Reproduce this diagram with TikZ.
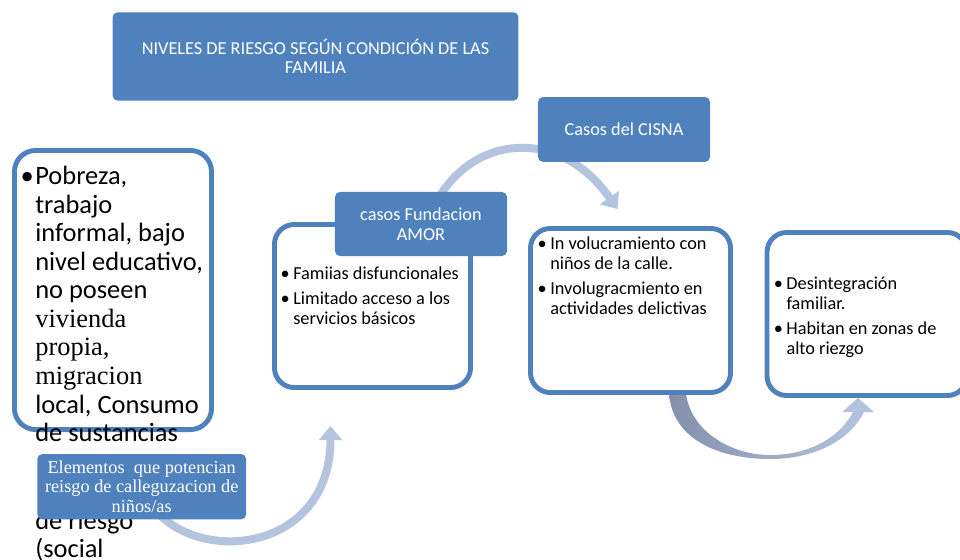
\documentclass[tikz,border=0pt]{standalone}
\usepackage{fontspec}
\setmainfont{Carlito}
\newfontfamily\tnr{Liberation Serif}
\usetikzlibrary{arrows.meta,calc,backgrounds}
\definecolor{ofblue}{HTML}{4F81BD}
\definecolor{arrlight}{HTML}{B4C3DE}
\definecolor{arrdark}{HTML}{8391AD}
\tikzset{
  hdr/.style={rectangle, rounded corners=3.5pt, fill=ofblue, text=white, align=center,
    font=\fontsize{13}{14.2}\selectfont},
  card/.style={rectangle, rounded corners=14pt, draw=ofblue, line width=3.5pt, fill=white},
  flow/.style={arrlight, line width=5.7pt, -{Triangle[width=16pt,length=10pt]}},
  body/.style={anchor=north west, inner sep=0pt, align=left, font=\fontsize{13}{14.2}\selectfont}
}
\newcommand{\bul}[1][2.5pt]{\llap{\textbullet\hspace{#1}}}

\begin{document}
\begin{tikzpicture}[x=0.025cm, y=-0.025cm]
  \useasboundingbox (0,0) rectangle (960,559);
  \node (pob) at (113,290) [card, rounded corners=15pt, minimum width=4.925cm, minimum height=6.975cm] {};
  \node (fam) at (372.5,306) [card, minimum width=4.9cm, minimum height=4.075cm] {};
  \node (calle) at (630.5,310.5) [card, minimum width=5cm, minimum height=4.1cm] {};
  \node (zona) at (867,314) [card, minimum width=5cm, minimum height=4.075cm] {};

  \node (pobtxt) at ($(pob.north west)+(23,18)$) [body, font=\fontsize{18.8}{20.3}\selectfont]
    {\bul[1pt]Pobreza,\\trabajo\\informal, bajo\\nivel educativo,\\no poseen\\{\tnr vivienda}\\{\tnr propia,}\\{\tnr migracion}\\local, Consumo\\de sustancias\\[42pt]de riesgo\\(social};
  \node (famtxt) at ($(fam.north west)+(21,45)$) [body]
    {\bul Famiias disfuncionales\\[3.5pt]\bul Limitado acceso a los\\servicios básicos};
  \node (calletxt) at ($(calle.north west)+(22,10.5)$) [body]
    {\bul In volucramiento con\\niños de la calle.\\[3.5pt]\bul Involugracmiento en\\actividades delictivas};
  \node (zonatxt) at ($(zona.north west)+(21.7,46.5)$) [body]
    {\bul Desintegración\\familiar.\\[3.5pt]\bul Habitan en zonas de\\alto riezgo};

  \node (title) at (315.5,56.5) [hdr, minimum width=10.14cm, minimum height=2.21cm, font=\fontsize{13}{13.5}\selectfont]
    {NIVELES DE RIESGO SEGÚN CONDICIÓN DE LAS\\FAMILIA};
  \node (cisna) at (624,129.5) [hdr, minimum width=4.3cm, minimum height=1.62cm] {Casos del CISNA};
  \node (amor) at (421,224) [hdr, minimum width=4.3cm, minimum height=1.6cm] {casos Fundacion\\AMOR};
  \node (elem) at (141.7,486.7) [hdr, minimum width=5.22cm, minimum height=1.63cm, font=\tnr\fontsize{13}{13.8}\selectfont]
    {Elementos\ \ que potencian\\reisgo de calleguzacion de\\niños/as};

  \coordinate (tipA) at ($(fam.south)+(-42,36)$);
  \coordinate (tipB) at ($(calle.north)+(-13,-17)$);
  \coordinate (tipC) at ($(zona.south)+(-9,0)$);
  \begin{scope}[on background layer]
    \draw[flow] (elem.center) .. controls +(28,81) and +(0,138) .. (tipA);
    \draw[flow] ($(amor.north)+(19,4)$) .. controls +(38,-61) and +(-57,-81) .. (tipB);
    \shade[left color=arrdark, right color=arrlight]
      (669,393) .. controls (672,440) and (720,459) .. (770,459)
      .. controls (815,459) and (850,440) .. (864,412) -- (853,412)
      .. controls (840,437) and (810,455) .. (770,455)
      .. controls (730,455) and (690,430) .. (686,393) -- cycle;
    \fill[arrlight] (842,412) -- (tipC) -- (874,412) -- cycle;
  \end{scope}
\end{tikzpicture}
\end{document}
